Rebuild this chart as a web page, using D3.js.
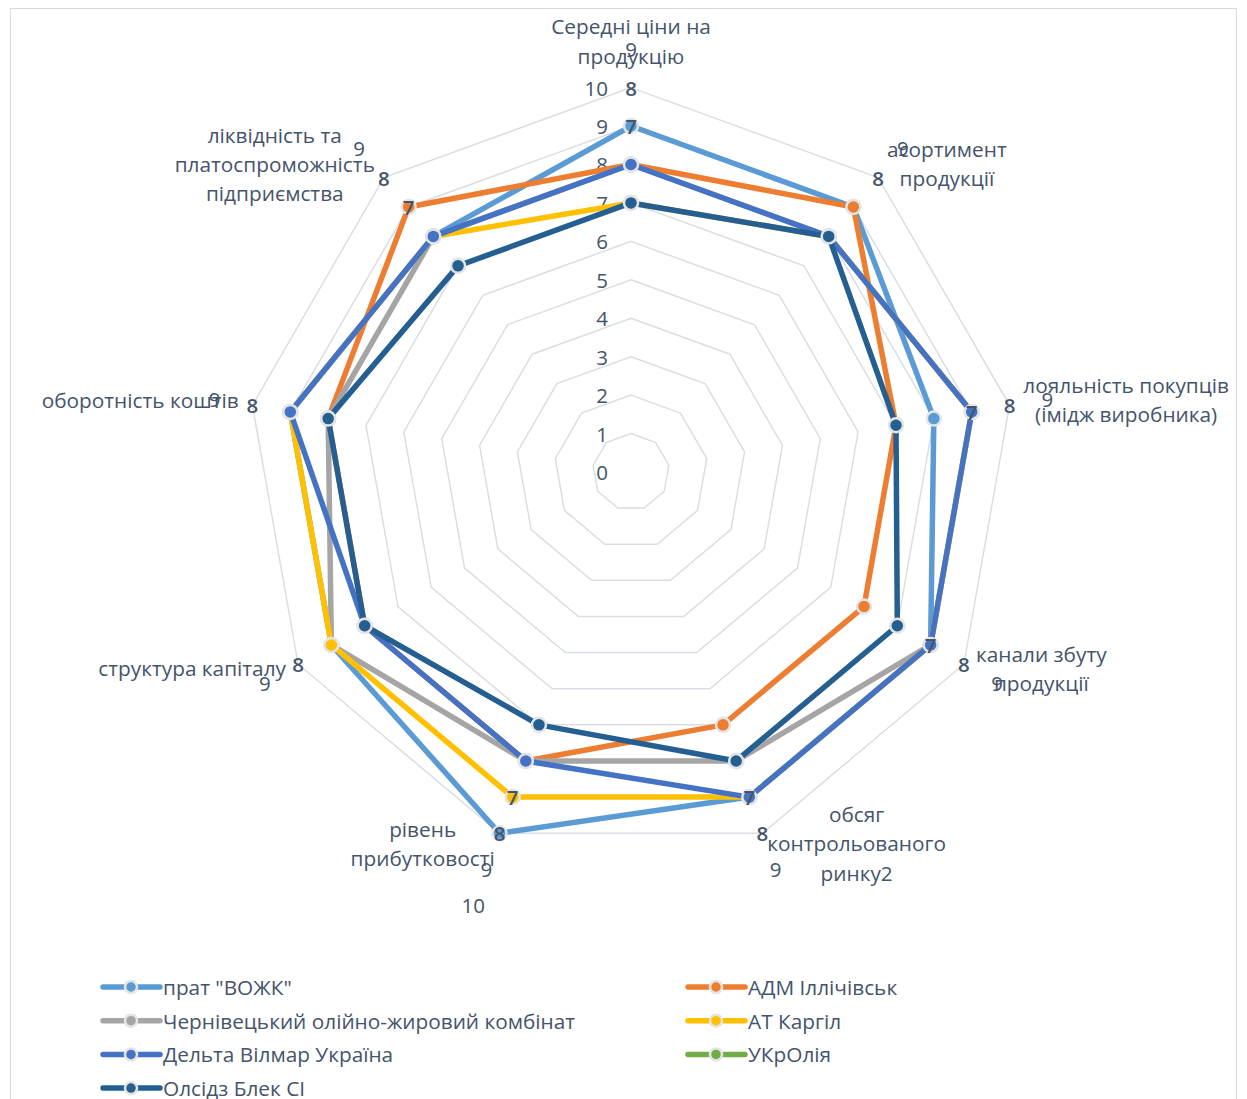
<!DOCTYPE html>
<html><head><meta charset="utf-8">
<script src="https://cdn.jsdelivr.net/npm/d3@7"></script>
<style>body{margin:0;background:#fff}svg{display:block}</style>
</head><body>
<svg id="chart" width="1247" height="1099"></svg>
<script>
// ---- data ----
const categories = [
  ["Середні ціни на", "продукцію"],
  ["асортимент", "продукції"],
  ["лояльність покупців", "(імідж виробника)"],
  ["канали збуту", "продукції"],
  ["обсяг", "контрольованого", "ринку2"],
  ["рівень", "прибутковості"],
  ["структура капіталу"],
  ["оборотність коштів"],
  ["ліквідність та", "платоспроможність", "підприємства"]
];
const seriesNames = ["прат \"ВОЖК\"", "АДМ Іллічівськ", "Чернівецький олійно-жировий комбінат", "АТ Каргіл", "Дельта Вілмар Україна", "УКрОлія", "Олсідз Блек СІ"];
const vozhk    = [9, 9, 8, 9, 9, 10, 9, 9, 8];
const adm      = [8, 9, 7, 7, 7, 8, 8, 8, 9];
const chern    = [8, 8, 9, 9, 8, 8, 9, 8, 8];
const cargill  = [7, 8, 9, 9, 9, 9, 9, 9, 8];
const delta    = [8, 8, 9, 9, 9, 8, 8, 9, 8];
const ukroliya = [null, null, null, null, null, null, null, null, null];
const olseeds  = [7, 8, 7, 8, 8, 7, 8, 8, 7];
const seriesColors = ["#5B9BD5", "#ED7D31", "#A5A5A5", "#FFC000", "#4472C4", "#70AD47", "#255E91"];
const tickValues = [0, 1, 2, 3, 4, 5, 6, 7, 8, 9, 10];
// stacked data labels shown around each axis
const pointLabels = [[7, 8, 9], [8, 9], [7, 8, 9], [7, 8, 9], [7, 8, 9], [7, 8, 9, 10], [8, 9], [8, 9], [7, 8, 9]];

const seriesValues = [vozhk, adm, chern, cargill, delta, ukroliya, olseeds];

// ---- layout ----
const cx = 631, cy = 472, R = 384.4;
const FONT = "'Open Sans', 'Noto Sans', 'DejaVu Sans', sans-serif";
const TEXT = "#44546A";
const GRID = "#D9DEE6";
const FS = 20.8;

const svg = d3.select("#chart").style("font-family", FONT);

svg.append("rect").attr("x", 10.5).attr("y", 8.5).attr("width", 1226).attr("height", 1110)
  .attr("fill", "#fff").attr("stroke", "#D9D9D9").attr("stroke-width", 1);

const n = categories.length;
const angle = d3.scaleLinear().domain([0, n]).range([0, 2 * Math.PI]);
const r = d3.scaleLinear().domain([0, 10]).range([0, R]);
const polar = (i, v) => [cx + r(v) * Math.sin(angle(i)), cy - r(v) * Math.cos(angle(i))];

const g = svg.append("g");

// grid rings
const ringLine = d3.lineRadial().angle((d, i) => angle(i)).radius(d => r(d)).curve(d3.curveLinearClosed);
tickValues.filter(t => t > 0).forEach(t => {
  g.append("path").attr("transform", `translate(${cx},${cy})`)
    .attr("d", ringLine(d3.range(n).map(() => t)))
    .attr("fill", "none").attr("stroke", GRID).attr("stroke-width", 1.5);
});

// tick labels
g.append("g").selectAll("text").data(tickValues).join("text")
  .attr("x", cx - 23).attr("y", d => cy - r(d))
  .attr("text-anchor", "end").attr("dominant-baseline", "central")
  .attr("font-size", 20.5).attr("fill", TEXT).text(d => d);

// series
const line = d3.lineRadial()
  .defined(d => d != null)
  .angle((d, i) => angle(i)).radius(d => r(d)).curve(d3.curveLinearClosed);

seriesValues.forEach((vals, si) => {
  if (vals.every(v => v == null)) return;
  const sg = g.append("g");
  sg.append("path").attr("transform", `translate(${cx},${cy})`)
    .attr("d", line(vals)).attr("fill", "none")
    .attr("stroke", seriesColors[si]).attr("stroke-width", 5.5).attr("stroke-linejoin", "round");
  sg.selectAll("circle").data(vals.map((v, i) => ({v, i})).filter(d => d.v != null)).join("circle")
    .attr("cx", d => polar(d.i, d.v)[0]).attr("cy", d => polar(d.i, d.v)[1])
    .attr("r", 7).attr("fill", seriesColors[si])
    .attr("stroke", "#E4E4E4").attr("stroke-width", 2.5);
});

// data labels
const labelData = [];
pointLabels.forEach((arr, i) => arr.forEach(v => labelData.push({i, v})));
g.append("g").selectAll("text").data(labelData).join("text")
  .attr("x", d => polar(d.i, d.v + 2)[0]).attr("y", d => polar(d.i, d.v + 2)[1])
  .attr("text-anchor", "middle").attr("dominant-baseline", "central")
  .attr("font-size", 20.5).attr("font-weight", d => d.v <= 8 ? 600 : 400)
  .attr("fill", TEXT).text(d => d.v);

// category labels
const LH = 29.3, PAD = 14;
categories.forEach((lines, i) => {
  const a = angle(i);
  const px = cx + (R + PAD) * Math.sin(a), py = cy - (R + PAD) * Math.cos(a);
  const s = Math.sin(a);
  const t = svg.append("text").attr("font-size", FS).attr("fill", TEXT).attr("text-anchor", "middle");
  const spans = lines.map(l => t.append("tspan").text(l));
  const widths = spans.map(sp => sp.node().getComputedTextLength());
  const bw = d3.max(widths);
  let centerX;
  if (s > 0.1) centerX = px + bw / 2;
  else if (s < -0.1) centerX = px - bw / 2;
  else centerX = px;
  let firstY;
  if (Math.abs(s) <= 0.1) firstY = py - 18 - (lines.length - 1) * LH;
  else firstY = py - 3 - (lines.length - 1) * LH / 2;
  spans.forEach((sp, k) => sp.attr("x", centerX).attr("y", firstY + k * LH).attr("dominant-baseline", "central"));
});

// legend
const legendCols = [103, 688];
const legendRowY = 987, legendRowH = 33.7;
seriesNames.forEach((name, si) => {
  const col = si % 2, row = Math.floor(si / 2);
  const x = legendCols[col], y = legendRowY + row * legendRowH;
  const lg = svg.append("g");
  lg.append("line").attr("x1", x).attr("x2", x + 57).attr("y1", y).attr("y2", y)
    .attr("stroke", seriesColors[si]).attr("stroke-width", 5.5).attr("stroke-linecap", "round");
  lg.append("circle").attr("cx", x + 28).attr("cy", y).attr("r", 6)
    .attr("fill", seriesColors[si]).attr("stroke", "#E4E4E4").attr("stroke-width", 2.5);
  lg.append("text").attr("x", x + 60).attr("y", y).attr("dominant-baseline", "central")
    .attr("font-size", FS).attr("fill", TEXT).text(name);
});
</script>
</body></html>
